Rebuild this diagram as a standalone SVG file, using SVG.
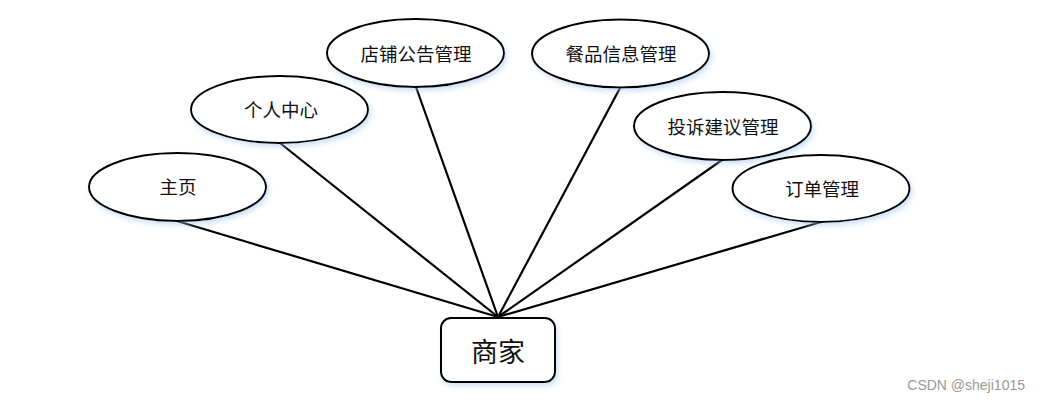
<svg xmlns="http://www.w3.org/2000/svg" width="1041" height="402" viewBox="0 0 1041 402">
<defs>
<filter id="glow" x="-20%" y="-30%" width="140%" height="160%">
<feGaussianBlur in="SourceAlpha" stdDeviation="2.5"/>
<feOffset dx="2" dy="3" result="b"/>
<feFlood flood-color="#9fc3ea" flood-opacity="0.5"/>
<feComposite in2="b" operator="in"/>
<feMerge><feMergeNode/><feMergeNode in="SourceGraphic"/></feMerge>
</filter>
</defs>
<style>
.n{fill:#fff;stroke:#000;stroke-width:2;filter:url(#glow)}
.t{font-family:"Noto Sans CJK SC",sans-serif;font-size:18.5px;fill:#111;text-anchor:middle;dominant-baseline:central}
.c line{stroke:#000;stroke-width:2.2}
</style>
<rect width="1041" height="402" fill="#fff"/>
<g class="c" id="connectors">
<line x1="177" y1="221" x2="498" y2="317"/>
<line x1="280" y1="143" x2="498" y2="317"/>
<line x1="416" y1="87" x2="498" y2="317"/>
<line x1="620" y1="88" x2="498" y2="317"/>
<line x1="722" y1="160" x2="498" y2="317"/>
<line x1="821" y1="222" x2="498" y2="317"/>
</g>
<g id="zhuye"><ellipse class="n" cx="177.5" cy="187" rx="88.5" ry="34"/><text class="t" x="178" y="186">主页</text></g>
<g id="gerenzhongxin"><ellipse class="n" cx="279.5" cy="109.5" rx="88.5" ry="33.5"/><text class="t" x="281" y="109">个人中心</text></g>
<g id="dianpugonggao"><ellipse class="n" cx="415.5" cy="53" rx="88.5" ry="34"/><text class="t" x="416" y="53">店铺公告管理</text></g>
<g id="canpinxinxi"><ellipse class="n" cx="620.5" cy="53.5" rx="88.5" ry="34"/><text class="t" x="621" y="53">餐品信息管理</text></g>
<g id="tousujianyi"><ellipse class="n" cx="722.5" cy="126" rx="88.5" ry="34"/><text class="t" x="723" y="126">投诉建议管理</text></g>
<g id="dingdan"><ellipse class="n" cx="821" cy="188.5" rx="88.5" ry="33.5"/><text class="t" x="822" y="188">订单管理</text></g>
<g id="shangjia"><rect class="n" x="441" y="318" width="114" height="64" rx="10" ry="10"/><text class="t" x="498" y="350" style="font-size:27px">商家</text></g>
<text x="1025" y="390" style="font-family:'Liberation Sans',sans-serif;font-size:14px;fill:#999;text-anchor:end">CSDN @sheji1015</text>
</svg>
